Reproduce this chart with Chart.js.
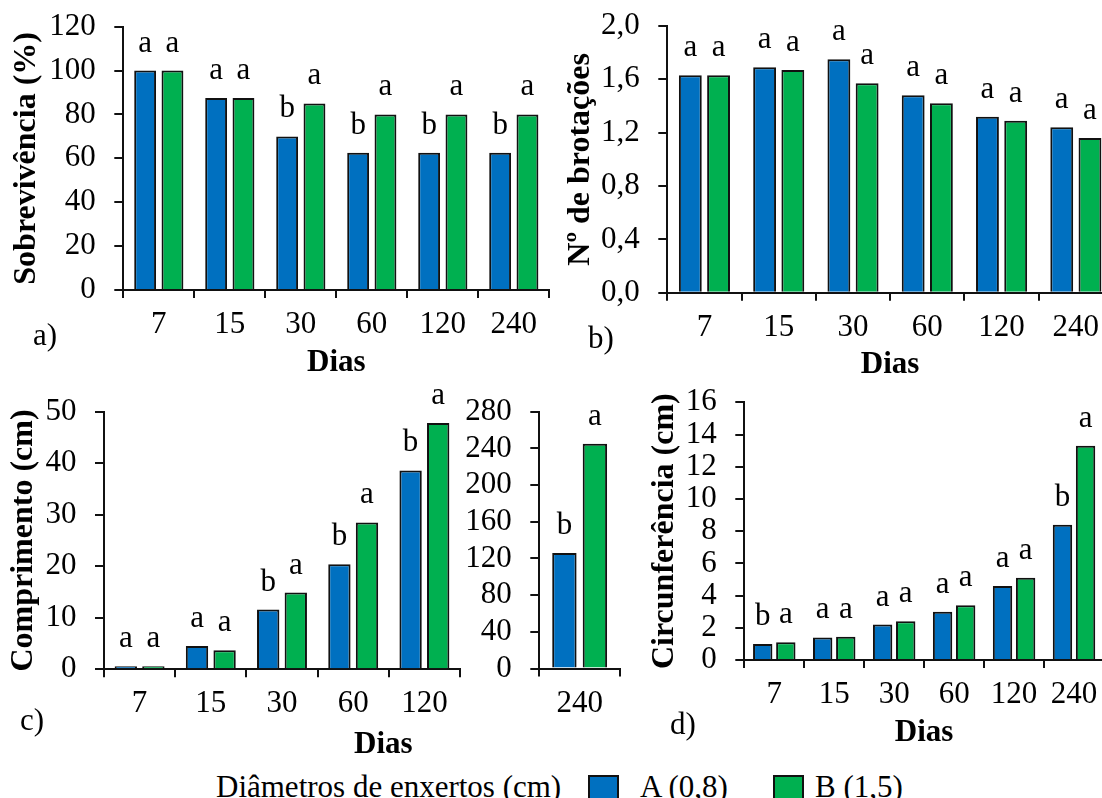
<!DOCTYPE html>
<html>
<head>
<meta charset="utf-8">
<script src="https://cdn.jsdelivr.net/npm/chart.js@4.4.1/dist/chart.umd.min.js"></script>
<style>
  html, body { margin: 0; padding: 0; background: #fff; }
  #fig { position: relative; width: 1102px; height: 798px; overflow: hidden;
         font-family: "Liberation Serif", "Times New Roman", serif; color: #000; }
  #fig canvas { position: absolute; }
  .txt { position: absolute; font-size: 31px; line-height: 36px; white-space: nowrap; }
  .bold { font-weight: bold; }
  .box { position: absolute; width: 27px; height: 32px; border: 2px solid #111; }
</style>
</head>
<body>
<div id="fig">
  <canvas id="chartA" width="560" height="404" style="left:0;top:-12px"></canvas>
  <canvas id="chartB" width="575" height="404" style="left:550px;top:-12px"></canvas>
  <canvas id="chartC1" width="472" height="387" style="left:0;top:373px"></canvas>
  <canvas id="chartC2" width="180" height="387" style="left:450px;top:373px"></canvas>
  <canvas id="chartD" width="476" height="396" style="left:640px;top:364px"></canvas>

  <div class="txt" style="left:33px;top:317px">a)</div>
  <div class="txt" style="left:588px;top:320px">b)</div>
  <div class="txt" style="left:20px;top:702px">c)</div>
  <div class="txt" style="left:670px;top:706px">d)</div>
  <div class="txt bold" style="left:354px;top:725px">Dias</div>

  <div class="txt" style="left:216px;top:769px">Diâmetros de enxertos (cm)</div>
  <div class="box" style="left:588px;top:775px;background:#0070C0"></div>
  <div class="txt" style="left:640px;top:769px">A (0,8)</div>
  <div class="box" style="left:773px;top:775px;background:#00B050"></div>
  <div class="txt" style="left:815px;top:769px">B (1,5)</div>
</div>

<script>
// dias de avaliação
const dias = ['7', '15', '30', '60', '120', '240'];
const diasComp = ['7', '15', '30', '60', '120'];
const diasComp240 = ['240'];

// a) sobrevivência (%)
const sobrevA = [100, 87.5, 70, 62.5, 62.5, 62.5];
const sobrevB = [100, 87.5, 85, 80, 80, 80];
const letrasSobrevA = ['a', 'a', 'b', 'b', 'b', 'b'];
const letrasSobrevB = ['a', 'a', 'a', 'a', 'a', 'a'];

// b) nº de brotações
const brotA = [1.63, 1.69, 1.75, 1.48, 1.32, 1.24];
const brotB = [1.63, 1.67, 1.57, 1.42, 1.29, 1.16];
const letrasBrotA = ['a', 'a', 'a', 'a', 'a', 'a'];
const letrasBrotB = ['a', 'a', 'a', 'a', 'a', 'a'];

// c) comprimento (cm), 240 dias em eixo separado
const compA = [0.6, 4.5, 11.6, 20.4, 38.6];
const compB = [0.6, 3.7, 14.9, 28.5, 47.8];
const letrasCompA = ['a', 'a', 'b', 'b', 'b'];
const letrasCompB = ['a', 'a', 'a', 'a', 'a'];
const comp240A = [126];
const comp240B = [245];
const letrasComp240A = ['b'];
const letrasComp240B = ['a'];

// d) circunferência (cm)
const circA = [1.0, 1.4, 2.2, 3.0, 4.6, 8.4];
const circB = [1.1, 1.45, 2.4, 3.4, 5.1, 13.3];
const letrasCircA = ['b', 'a', 'a', 'a', 'a', 'b'];
const letrasCircB = ['a', 'a', 'a', 'a', 'a', 'a'];

const AZUL = '#0070C0';
const VERDE = '#00B050';
const FONTE = '"Liberation Serif", "Times New Roman", serif';

Chart.defaults.font.family = FONTE;
Chart.defaults.font.size = 31;
Chart.defaults.color = '#000';

// letras de significância acima de cada barra
const letrasPlugin = {
  id: 'letras',
  afterDatasetsDraw(chart) {
    const ctx = chart.ctx;
    ctx.save();
    ctx.font = '31px ' + FONTE;
    ctx.fillStyle = '#000';
    ctx.textAlign = 'center';
    ctx.textBaseline = 'alphabetic';
    chart.data.datasets.forEach((ds, i) => {
      chart.getDatasetMeta(i).data.forEach((bar, j) => {
        ctx.fillText(ds.letras[j], bar.x, bar.y - 19);
      });
    });
    ctx.restore();
  }
};

function virgula(v) {
  return v.toFixed(1).replace('.', ',');
}

function painel(id, p) {
  const serie = (data, cor, letras) => ({
    data: data,
    letras: letras,
    backgroundColor: cor,
    borderColor: '#111',
    borderWidth: 2,
    borderSkipped: 'start',
    categoryPercentage: p.cat,
    barPercentage: p.bar
  });

  return new Chart(document.getElementById(id), {
    type: 'bar',
    data: {
      labels: p.labels,
      datasets: [serie(p.a, AZUL, p.la), serie(p.b, VERDE, p.lb)]
    },
    options: {
      responsive: false,
      animation: false,
      layout: { padding: { top: p.top, right: p.right, left: 0, bottom: 0 } },
      plugins: { legend: { display: false }, tooltip: { enabled: false } },
      scales: {
        x: {
          grid: { display: true, drawOnChartArea: false, drawTicks: true, tickLength: 8, color: '#111', lineWidth: 2 },
          border: { display: true, color: '#111', width: 2 },
          ticks: { padding: 8.4, font: { size: 31 } },
          title: { display: !!p.xTitle, text: 'Dias', font: { size: 31, weight: 'bold' }, padding: { top: 0, bottom: p.xTitlePad } },
          afterFit: (s) => { s.height = p.xH; }
        },
        y: {
          min: 0,
          max: p.max,
          ticks: { stepSize: p.step, autoSkip: false, padding: 18.5, font: { size: 31 }, callback: p.fmt || (v => v) },
          grid: { display: true, drawOnChartArea: false, drawTicks: true, tickLength: 9, color: '#111', lineWidth: 2 },
          border: { display: true, color: '#111', width: 2 },
          title: { display: !!p.yTitle, text: p.yTitle, font: { size: 32, weight: 'bold' }, padding: { top: p.yTitlePad, bottom: 0 } },
          afterFit: (s) => { s.width = p.yW; }
        }
      }
    },
    plugins: [letrasPlugin]
  });
}

painel('chartA', {
  labels: dias, a: sobrevA, b: sobrevB, la: letrasSobrevA, lb: letrasSobrevB,
  max: 120, step: 20, yTitle: 'Sobrevivência (%)', yTitlePad: 7.8, yW: 123.3,
  xTitle: true, xTitlePad: 10.4, xH: 102, top: 38.7, right: 10.7, cat: 0.77, bar: 0.8
});

painel('chartB', {
  labels: dias, a: brotA, b: brotB, la: letrasBrotA, lb: letrasBrotB,
  max: 2, step: 0.4, fmt: virgula, yTitle: 'Nº de brotações', yTitlePad: 11.8, yW: 117.3,
  xTitle: true, xTitlePad: 8.4, xH: 99.3, top: 38, right: 12, cat: 0.76, bar: 0.81
});

painel('chartC1', {
  labels: diasComp, a: compA, b: compB, la: letrasCompA, lb: letrasCompB,
  max: 50, step: 10, yTitle: 'Comprimento (cm)', yTitlePad: 4.8, yW: 104,
  xTitle: false, xH: 90.7, top: 38.7, right: 12, cat: 0.775, bar: 0.81
});

painel('chartC2', {
  labels: diasComp240, a: comp240A, b: comp240B, la: letrasComp240A, lb: letrasComp240B,
  max: 280, step: 40, yTitle: '', yW: 89.3,
  xTitle: false, xH: 91.5, top: 38.7, right: 10, cat: 0.756, bar: 0.8
});

painel('chartD', {
  labels: dias, a: circA, b: circB, la: letrasCircA, lb: letrasCircB,
  max: 16, step: 2, yTitle: 'Circunferência (cm)', yTitlePad: 5.8, yW: 104.3,
  xTitle: true, xTitlePad: 8.4, xH: 100, top: 38.3, right: 12, cat: 0.77, bar: 0.84
});
</script>
</body>
</html>
